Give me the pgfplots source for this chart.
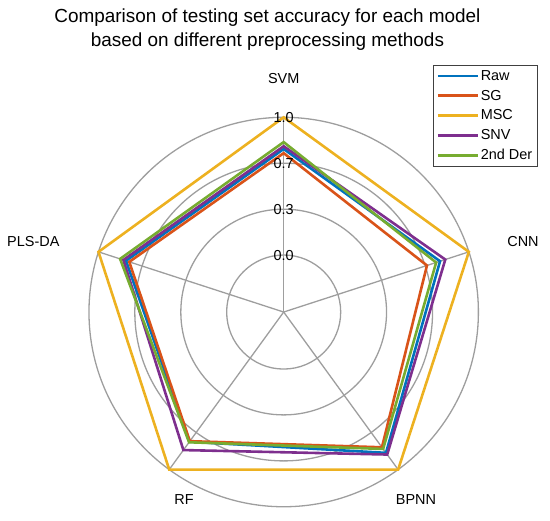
\documentclass[border=0pt]{standalone}
\usepackage{fontspec}
\setmainfont{Liberation Sans}
\usepackage{pgfplots}
\usepackage{pgfplotstable}
\pgfplotsset{compat=1.18}
\definecolor{cRaw}{rgb}{0,0.447,0.741}
\definecolor{cSG}{rgb}{0.85,0.325,0.098}
\definecolor{cMSC}{rgb}{0.929,0.694,0.125}
\definecolor{cSNV}{rgb}{0.494,0.184,0.556}
\definecolor{cDer}{rgb}{0.466,0.674,0.188}
\definecolor{grid}{gray}{0.62}

% values per model (last two rows repeat SVM and CNN to close the polygon)
\pgfplotstableread{
idx model Raw SG MSC SNV Der
0 SVM 0.77 0.74 1.0 0.79 0.82
1 CNN 0.78 0.68 1.0 0.82 0.75
2 BPNN 0.85 0.80 1.0 0.865 0.815
3 RF 0.75 0.745 1.0 0.825 0.755
4 PLS-DA 0.79 0.765 1.0 0.81 0.835
5 SVM 0.77 0.74 1.0 0.79 0.82
6 CNN 0.78 0.68 1.0 0.82 0.75
}\acc

\newcommand\rz{0.414}

\begin{document}
\begin{tikzpicture}
\begin{axis}[name=ax, x=137.7bp, y=137.7bp,
  xmin=-2.060, xmax=1.934, ymin=-1.511, ymax=2.266,
  hide axis, clip=false,
  legend style={at={(0.787,0.875)}, anchor=north west, draw=black!75, line width=0.6bp,
    font=\fontsize{14.5}{16}\selectfont, inner sep=3.5bp, row sep=5.2bp,
    nodes={inner sep=1.5bp}},
  legend cell align=left,
  legend image code/.code={\draw[#1] (0bp,0bp) -- (40bp,0bp);},
  every axis plot/.append style={line width=2.6bp, line join=miter, mark=none}]

% grid circles (values 0.0, 0.333, 0.667, 1.0 ; centre at -0.414)
\draw[grid, line width=1.3bp] (axis cs:0,0) circle[radius=0.414];
\draw[grid, line width=1.3bp] (axis cs:0,0) circle[radius=0.747];
\draw[grid, line width=1.3bp] (axis cs:0,0) circle[radius=1.081];
\draw[grid, line width=1.3bp] (axis cs:0,0) circle[radius=1.414];
% spokes
\draw[grid, line width=1.3bp] (axis cs:0,0) -- (axis cs:0,1.414);
\draw[grid, line width=1.3bp] (axis cs:0,0) -- (axis cs:1.3448,0.4370);
\draw[grid, line width=1.3bp] (axis cs:0,0) -- (axis cs:0.8311,-1.1440);
\draw[grid, line width=1.3bp] (axis cs:0,0) -- (axis cs:-0.8311,-1.1440);
\draw[grid, line width=1.3bp] (axis cs:0,0) -- (axis cs:-1.3448,0.4370);

\addplot[cRaw] table[x expr={(\thisrow{Raw}+\rz)*cos(90-72*\thisrow{idx})}, y expr={(\thisrow{Raw}+\rz)*sin(90-72*\thisrow{idx})}] {\acc};
\addlegendentry{Raw}
\addplot[cSG] table[x expr={(\thisrow{SG}+\rz)*cos(90-72*\thisrow{idx})}, y expr={(\thisrow{SG}+\rz)*sin(90-72*\thisrow{idx})}] {\acc};
\addlegendentry{SG}
\addplot[cMSC] table[x expr={(\thisrow{MSC}+\rz)*cos(90-72*\thisrow{idx})}, y expr={(\thisrow{MSC}+\rz)*sin(90-72*\thisrow{idx})}] {\acc};
\addlegendentry{MSC}
\addplot[cSNV] table[x expr={(\thisrow{SNV}+\rz)*cos(90-72*\thisrow{idx})}, y expr={(\thisrow{SNV}+\rz)*sin(90-72*\thisrow{idx})}] {\acc};
\addlegendentry{SNV}
\addplot[cDer] table[x expr={(\thisrow{Der}+\rz)*cos(90-72*\thisrow{idx})}, y expr={(\thisrow{Der}+\rz)*sin(90-72*\thisrow{idx})}] {\acc};
\addlegendentry{2nd Der}

% radial tick labels
\node[font=\fontsize{14.5}{16}\selectfont] at (axis cs:0,1.414) {1.0};
\node[font=\fontsize{14.5}{16}\selectfont] at (axis cs:0,1.081) {0.7};
\node[font=\fontsize{14.5}{16}\selectfont] at (axis cs:0,0.747) {0.3};
\node[font=\fontsize{14.5}{16}\selectfont] at (axis cs:0,0.414) {0.0};

% category labels
\node[font=\fontsize{14.5}{16}\selectfont] at (axis cs:0,1.699) {SVM};
\node[font=\fontsize{14.5}{16}\selectfont] at (axis cs:1.738,0.511) {CNN};
\node[font=\fontsize{14.5}{16}\selectfont] at (axis cs:-1.818,0.511) {PLS-DA};
\node[font=\fontsize{14.5}{16}\selectfont] at (axis cs:-0.724,-1.365) {RF};
\node[font=\fontsize{14.5}{16}\selectfont] at (axis cs:0.961,-1.365) {BPNN};

% title
\node[font=\fontsize{19}{24}\selectfont, align=center] at (axis cs:-0.118,2.048)
  {Comparison of testing set accuracy for each model\\based on different preprocessing methods};
\end{axis}
\path (ax.south west) rectangle (ax.north east);
\end{tikzpicture}
\end{document}
